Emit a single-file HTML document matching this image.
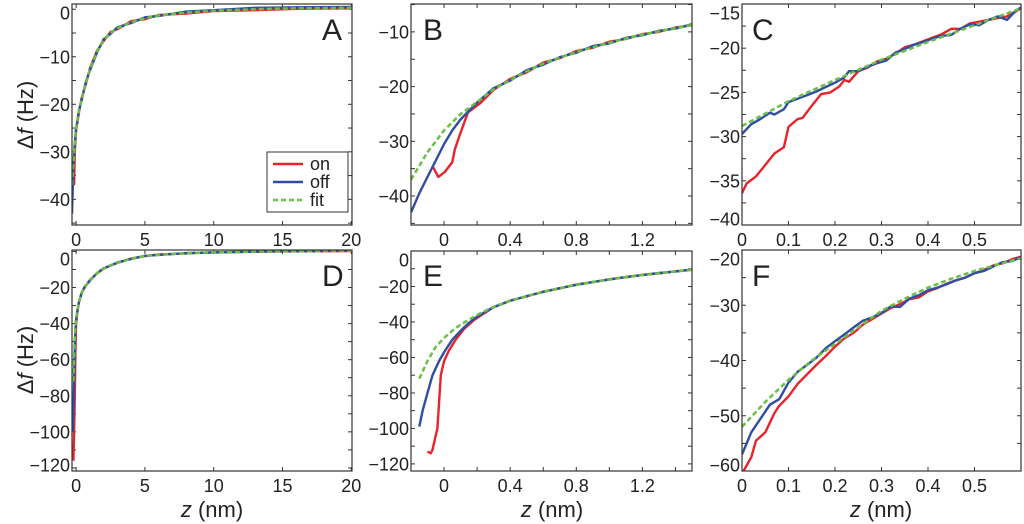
<!DOCTYPE html>
<html><head><meta charset="utf-8"><style>
body{margin:0;background:#fff;width:1024px;height:524px;overflow:hidden}
svg{display:block;font-family:"Liberation Sans",sans-serif}
</style></head><body>
<svg id="fig" width="1024" height="524" viewBox="0 0 1024 524" xmlns="http://www.w3.org/2000/svg"></svg>
<script>
// ---- data ----
const aFitZ=[-0.3,-0.2,-0.1,0,0.2,0.4,0.7,1,1.5,2,2.5,3,4,5,6,8,10,13,16,20.1];
const aFit=[-37,-32,-28,-25,-21.5,-19,-15.5,-12.7,-9,-6.5,-5,-4,-2.7,-1.9,-1.3,-0.7,-0.3,0,0.2,0.3];
const aOffZ=[-0.3,-0.25,-0.2,-0.1,0,0.2,0.4,0.7,1,1.5,2,2.5,3,4,5,6,8,10,13,16,20.1];
const aOff=[-43,-38,-33,-28.3,-25.2,-21.3,-19.2,-15.3,-12.9,-9.2,-6.3,-5.2,-3.8,-2.9,-1.7,-1.4,-0.5,-0.2,0.3,0.4,0.5];
const aOnZ=[-0.15,-0.1,0,0.2,0.4,0.7,1,1.5,2,2.5,3,4,5,6,8,10,13,16,20.1];
const aOn=[-37,-30,-25.4,-21.8,-18.7,-15.8,-12.5,-8.8,-6.7,-4.8,-4.2,-2.5,-2.1,-1.2,-0.9,-0.4,-0.2,0.1,0.2];

const bFitZ=[-0.2,-0.1,0,0.1,0.2,0.3,0.4,0.5,0.6,0.7,0.8,0.9,1.0,1.1,1.2,1.3,1.4,1.5];
const bFit=[-37,-32,-28,-25,-22.8,-20.5,-18.8,-17.2,-15.8,-14.7,-13.7,-12.8,-12,-11.2,-10.5,-9.9,-9.3,-8.7];
const bOffZ=[-0.2,-0.15,-0.1,-0.05,0,0.05,0.1,0.2,0.3,0.4,0.5,0.6,0.7,0.8,0.9,1.0,1.1,1.2,1.3,1.4,1.5];
const bOff=[-43,-39.5,-36.5,-33.5,-30.5,-28,-26,-22.9,-20.3,-18.9,-17,-16,-14.6,-13.8,-12.6,-12.1,-11.1,-10.6,-9.8,-9.4,-8.6];
const bOnZ=[-0.07,-0.035,0.005,0.05,0.065,0.1,0.145,0.22,0.3,0.4,0.5,0.6,0.7,0.8,0.9,1.0,1.1,1.2,1.3,1.4,1.5];
const bOn=[-34.5,-36.5,-35.6,-33.8,-31.5,-28.4,-24.7,-23,-20.6,-18.6,-17.4,-15.6,-14.8,-13.5,-12.9,-11.8,-11.3,-10.4,-10,-9.2,-8.8];

const cFitZ=[0,0.1,0.2,0.3,0.4,0.5,0.6];
const cFit=[-28.8,-26,-23.6,-21.3,-19.3,-17.4,-15.5];
const cOffZ=[0,0.02,0.04,0.06,0.07,0.09,0.1,0.12,0.14,0.16,0.18,0.2,0.22,0.23,0.25,0.27,0.29,0.31,0.33,0.35,0.37,0.39,0.41,0.43,0.45,0.47,0.49,0.51,0.53,0.55,0.57,0.59,0.6];
const cOff=[-29.7,-28.6,-28.0,-27.3,-27.5,-26.9,-26.1,-25.7,-25.3,-24.9,-24.4,-23.9,-23.3,-22.6,-22.6,-22.1,-21.7,-21.4,-20.5,-20.1,-19.6,-19.3,-18.9,-18.6,-18.5,-17.8,-17.3,-17.4,-16.8,-16.4,-16.8,-15.7,-15.4];
const cOnZ=[0,0.01,0.03,0.05,0.07,0.09,0.1,0.12,0.13,0.15,0.17,0.19,0.21,0.22,0.23,0.25,0.27,0.29,0.31,0.33,0.35,0.37,0.39,0.41,0.43,0.45,0.47,0.49,0.51,0.53,0.55,0.57,0.59,0.6];
const cOn=[-36.4,-35.3,-34.5,-33.2,-31.9,-31.2,-28.9,-28.0,-27.9,-26.5,-25.2,-25.0,-24.3,-23.6,-23.8,-22.6,-22.2,-21.5,-21.2,-20.6,-19.9,-19.6,-19.2,-18.8,-18.4,-17.8,-17.8,-17.2,-17.0,-16.8,-16.6,-16.4,-15.8,-15.5];

const dFitZ=[-0.2,-0.15,-0.1,-0.05,0,0.1,0.2,0.4,0.6,1,1.5,2,2.5,3,4,5,6,8,10,14,20.1];
const dFit=[-72,-58,-48,-42,-37,-32,-28,-23,-20,-16,-12,-9.5,-7.8,-6.3,-4,-2.5,-1.8,-1,-0.5,0,0.3];
const dOffZ=[-0.25,-0.2,-0.15,-0.1,-0.05,0,0.1,0.2,0.4,0.6,1,1.5,2,2.5,3,4,5,6,8,10,14,20.1];
const dOff=[-100,-88,-70,-55,-44,-38,-32.5,-28.3,-23.2,-19.8,-16.2,-12.1,-9.3,-7.9,-6.1,-4.2,-2.4,-1.9,-0.9,-0.6,0.1,0.4];
const dOnZ=[-0.2,-0.15,-0.1,-0.05,0,0.1,0.2,0.4,0.6,1,1.5,2,2.5,3,4,5,6,8,10,14,20.1];
const dOn=[-116,-100,-80,-55,-40,-32.8,-28.2,-22.8,-20.2,-15.8,-12.2,-9.6,-7.7,-6.4,-3.9,-2.6,-1.7,-1.1,-0.4,-0.1,0.2];

const eFitZ=[-0.15,-0.1,-0.05,0,0.05,0.1,0.2,0.3,0.4,0.5,0.6,0.7,0.8,0.9,1.0,1.1,1.2,1.3,1.4,1.5];
const eFit=[-72,-62,-54,-49,-45,-41.5,-36,-31.5,-28,-25.5,-23,-21,-19,-17.5,-16,-14.7,-13.5,-12.5,-11.5,-10.5];
const eOffZ=[-0.15,-0.13,-0.1,-0.07,-0.03,0,0.05,0.1,0.15,0.2,0.3,0.4,0.5,0.6,0.7,0.8,0.9,1.0,1.1,1.2,1.3,1.4,1.5];
const eOff=[-99,-90,-80,-70,-62,-57,-50,-45,-40.5,-37,-31.6,-28.1,-25.4,-23.1,-20.9,-19.1,-17.4,-16.1,-14.6,-13.6,-12.4,-11.6,-10.4];
const eOnZ=[-0.1,-0.08,-0.07,-0.04,-0.03,-0.02,0,0.03,0.07,0.12,0.18,0.22,0.3,0.4,0.5,0.6,0.7,0.8,0.9,1.0,1.1,1.2,1.3,1.4,1.5];
const eOn=[-113,-114,-112,-100,-85,-70,-62,-56,-50,-44,-39,-36.5,-31.7,-27.9,-25.6,-22.9,-21.1,-18.9,-17.6,-15.9,-14.8,-13.4,-12.6,-11.4,-10.6];

const fFitZ=[0,0.05,0.1,0.15,0.2,0.25,0.3,0.35,0.4,0.45,0.5,0.55,0.6];
const fFit=[-52,-47.5,-43.5,-40,-37,-34,-31,-28.8,-26.8,-25.2,-23.8,-22.6,-21.5];
const fOffZ=[0,0.02,0.04,0.06,0.08,0.1,0.12,0.14,0.16,0.18,0.2,0.22,0.24,0.26,0.28,0.3,0.32,0.34,0.36,0.38,0.4,0.42,0.44,0.46,0.48,0.5,0.52,0.54,0.56,0.58,0.6];
const fOff=[-57,-53,-50.5,-48,-47,-44,-42,-40.8,-39.5,-37.8,-36.5,-35.3,-34,-32.8,-32.2,-31.4,-30.2,-30.3,-28.8,-28.2,-27.3,-26.8,-26.2,-25.5,-25,-24.2,-23.8,-23,-22.2,-22,-21.3];
const fOnZ=[0,0.01,0.02,0.03,0.05,0.07,0.08,0.1,0.12,0.14,0.16,0.18,0.2,0.22,0.24,0.26,0.28,0.3,0.32,0.34,0.36,0.38,0.4,0.42,0.44,0.46,0.48,0.5,0.52,0.54,0.56,0.58,0.6];
const fOn=[-60.5,-59,-57.5,-54.5,-53,-49.5,-48.2,-46.5,-44.2,-42.5,-40.8,-39.2,-37.5,-36,-35,-33.5,-32.5,-31.5,-30.5,-29.8,-28.9,-28.6,-27.5,-26.9,-26.1,-25.5,-25,-24.2,-23.6,-22.8,-22.4,-21.7,-21.2];

const aXTicks=[0,5,10,15,20], aYTicks=[0,-10,-20,-30,-40];
const bXTicks=[0,0.4,0.8,1.2], bYTicks=[-10,-20,-30,-40];
const cXTicks=[0,0.1,0.2,0.3,0.4,0.5], cYTicks=[-15,-20,-25,-30,-35,-40];
const dXTicks=[0,5,10,15,20], dYTicks=[0,-20,-40,-60,-80,-100,-120];
const eXTicks=[0,0.4,0.8,1.2], eYTicks=[0,-20,-40,-60,-80,-100,-120];
const fXTicks=[0,0.1,0.2,0.3,0.4,0.5], fYTicks=[-20,-30,-40,-50,-60];

const NS="http://www.w3.org/2000/svg";
const svg=document.getElementById('fig');
function mk(tag,attrs,parent){const e=document.createElementNS(NS,tag);for(const k in attrs)e.setAttribute(k,attrs[k]);(parent||svg).appendChild(e);return e;}

function panel(o){
  const g=mk('g',{});
  
  
  const sx=v=>o.x0+(v-o.xd[0])/(o.xd[1]-o.xd[0])*(o.x1-o.x0);
  const sy=v=>o.y1-(v-o.yd[0])/(o.yd[1]-o.yd[0])*(o.y1-o.y0);
  const clip='clip'+o.letter;
  const cp=mk('clipPath',{id:clip},g);
  mk('rect',{x:o.x0,y:o.y0,width:o.x1-o.x0,height:o.y1-o.y0},cp);
  const tg=mk('g',{stroke:'#333','stroke-width':1},g);
  for(let v=Math.ceil(o.xd[0]/o.xm)*o.xm; v<=o.xd[1]+1e-9; v+=o.xm){
    const x=sx(v);
    mk('line',{x1:x,x2:x,y1:o.y1,y2:o.y1-4},tg);
    mk('line',{x1:x,x2:x,y1:o.y0,y2:o.y0+4},tg);
  }
  for(let v=Math.ceil(o.yd[0]/o.ym)*o.ym; v<=o.yd[1]+1e-9; v+=o.ym){
    const y=sy(v);
    mk('line',{x1:o.x0,x2:o.x0+4,y1:y,y2:y},tg);
    mk('line',{x1:o.x1,x2:o.x1-4,y1:y,y2:y},tg);
  }
  o.xt.forEach(v=>{
    const t=mk('text',{x:sx(v),y:o.y1+21,'text-anchor':'middle','font-size':18,fill:'#222'},g);
    
    
    t.textContent=String(v);
  });
  o.yt.forEach(v=>{
    const y=Math.min(Math.max(sy(v),o.y0+9),o.y1-6);
    const t=mk('text',{x:o.x0-2,y:y+6.5,'text-anchor':'end','font-size':18,fill:'#222'},g);
    
    
    t.textContent=(v<0?'\u2212'+(-v):String(v));
  });
  const lg=mk('g',{'clip-path':'url(#'+clip+')',fill:'none','stroke-linejoin':'round'},g);
  const path=(zs,vs)=>zs.map((z,i)=>(i?'L':'M')+sx(z).toFixed(1)+' '+sy(vs[i]).toFixed(1)).join('');
  const pOn=mk('path',{d:path(o.onZ,o.on),stroke:'#e8232b','stroke-width':2.4},lg);
  
  
  const pOff=mk('path',{d:path(o.offZ,o.off),stroke:'#2e4ea3','stroke-width':2.4},lg);
  
  
  const pFit=mk('path',{d:path(o.fitZ,o.fit),stroke:'#6abf45','stroke-width':2.5,'stroke-dasharray':'5 3'},lg);
  
  
  const fr=mk('rect',{x:o.x0,y:o.y0,width:o.x1-o.x0,height:o.y1-o.y0,fill:'none',stroke:'#333','stroke-width':1.2},g);
  
  
  const L=mk('text',{x:o.lx,y:o.ly,'font-size':30,fill:'#222'},g);
  
  
  L.textContent=o.letter;
}

panel({letter:'A',x0:72,x1:352,y0:4,y1:225,xd:[-0.3,20.05],yd:[-45.4,1.1],xm:5,ym:5,xt:aXTicks,yt:aYTicks,
  onZ:aOnZ,on:aOn,offZ:aOffZ,off:aOff,fitZ:aFitZ,fit:aFit,lx:322,ly:40});
panel({letter:'B',x0:411,x1:692,y0:4,y1:225,xd:[-0.2,1.5],yd:[-45.3,-4.9],xm:0.2,ym:5,xt:bXTicks,yt:bYTicks,
  onZ:bOnZ,on:bOn,offZ:bOffZ,off:bOff,fitZ:bFitZ,fit:bFit,lx:423,ly:40});
panel({letter:'C',x0:742,x1:1021,y0:4,y1:225,xd:[0,0.6],yd:[-40,-15],xm:0.1,ym:2.5,xt:cXTicks,yt:cYTicks,
  onZ:cOnZ,on:cOn,offZ:cOffZ,off:cOff,fitZ:cFitZ,fit:cFit,lx:752,ly:40});
panel({letter:'D',x0:72,x1:352,y0:250,y1:471,xd:[-0.3,20.05],yd:[-121.7,0.8],xm:5,ym:10,xt:dXTicks,yt:dYTicks,
  onZ:dOnZ,on:dOn,offZ:dOffZ,off:dOff,fitZ:dFitZ,fit:dFit,lx:322,ly:286});
panel({letter:'E',x0:411,x1:692,y0:251,y1:471,xd:[-0.2,1.5],yd:[-124,0],xm:0.2,ym:10,xt:eXTicks,yt:eYTicks,
  onZ:eOnZ,on:eOn,offZ:eOffZ,off:eOff,fitZ:eFitZ,fit:eFit,lx:423,ly:286});
panel({letter:'F',x0:742,x1:1021,y0:250,y1:471,xd:[0,0.6],yd:[-60,-20],xm:0.1,ym:5,xt:fXTicks,yt:fYTicks,
  onZ:fOnZ,on:fOn,offZ:fOffZ,off:fOff,fitZ:fFitZ,fit:fFit,lx:752,ly:286});
</script>
<script>
(function(){
  const NS="http://www.w3.org/2000/svg";const svg=document.getElementById('fig');
  function mk(tag,attrs,p){const e=document.createElementNS(NS,tag);for(const k in attrs)e.setAttribute(k,attrs[k]);(p||svg).appendChild(e);return e;}
  const lg=mk('g',{});
  
  
  mk('rect',{x:267,y:152,width:81,height:60,fill:'#fff',stroke:'#333','stroke-width':1},lg);
  const items=[['on','#e8232b',''],['off','#2e4ea3',''],['fit','#6abf45','5 3']];
  items.forEach((it,i)=>{
    const y=164+i*18;
    const e=mk('g',{},lg);
    
    
    mk('line',{x1:273,x2:303,y1:y,y2:y,stroke:it[1],'stroke-width':2.4,'stroke-dasharray':it[2]||'none'},e);
    const t=mk('text',{x:310,y:y+6,'font-size':18,fill:'#222'},e);
    t.textContent=it[0];
  });
  [115,360].forEach(cy=>{
    const t=mk('text',{x:0,y:0,'font-size':22,fill:'#222','text-anchor':'middle',transform:'translate(33,'+cy+') rotate(-90)'});
    
    
    t.innerHTML='\u0394<tspan font-style="italic">f</tspan> (Hz)';
  });
  [212,552,881].forEach(cx=>{
    const t=mk('text',{x:cx,y:517,'font-size':22,fill:'#222','text-anchor':'middle'});
    
    
    t.innerHTML='<tspan font-style="italic">z</tspan> (nm)';
  });
})();
</script>
</body></html>
